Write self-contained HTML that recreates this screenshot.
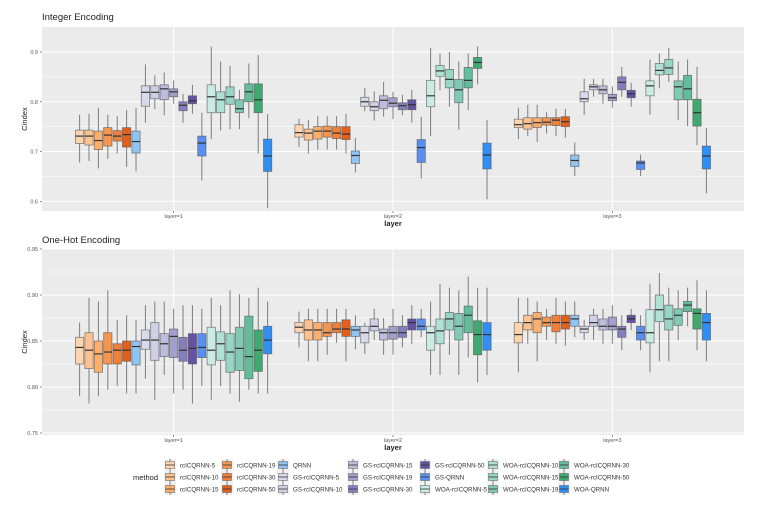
<!DOCTYPE html>
<html><head><meta charset="utf-8">
<style>
body{margin:0;background:#fff;font-family:"Liberation Sans",sans-serif;}
svg{display:block}
text{font-family:"Liberation Sans",sans-serif}
</style></head>
<body>
<svg id="chart" width="768" height="506" viewBox="0 0 768 506"></svg>
<script>
const categories = ["layer=1","layer=2","layer=3"];
const seriesNames = ["rcICQRNN-5","rcICQRNN-10","rcICQRNN-15","rcICQRNN-19","rcICQRNN-30","rcICQRNN-50","QRNN",
 "GS-rcICQRNN-5","GS-rcICQRNN-10","GS-rcICQRNN-15","GS-rcICQRNN-19","GS-rcICQRNN-30","GS-rcICQRNN-50","GS-QRNN",
 "WOA-rcICQRNN-5","WOA-rcICQRNN-10","WOA-rcICQRNN-15","WOA-rcICQRNN-19","WOA-rcICQRNN-30","WOA-rcICQRNN-50","WOA-QRNN"];
const seriesColors = ["#fdd4ae","#fdc28f","#fdae6b","#f7954f","#f07f3a","#e35f1a","#8fc5f2",
 "#d9d9eb","#cfcfe6","#bcbddc","#a39fcc","#8480bd","#6552a5","#5a8ff2",
 "#c9ebe4","#b0e1d5","#97d6c6","#7ecab2","#62bd9b","#3fa96f","#2f8ff5"];
const intTicks = [0.6,0.7,0.8,0.9];
const intTickLabels = ["0.6","0.7","0.8","0.9"];
const ohTicks = [0.75,0.80,0.85,0.90,0.95];
const ohTickLabels = ["0.75","0.80","0.85","0.90","0.95"];
// [lower whisker, q1, median, q3, upper whisker]
const intLayer1 = [[.678,.716,.731,.743,.774],[.681,.713,.731,.743,.776],[.666,.704,.722,.741,.788],[.685,.711,.733,.748,.774],[.696,.721,.731,.742,.771],[.669,.709,.734,.748,.783],[.660,.697,.720,.741,.788],
 [.758,.791,.819,.832,.875],[.785,.806,.819,.832,.853],[.773,.804,.826,.834,.859],[.796,.810,.820,.826,.843],[.758,.782,.793,.800,.816],[.776,.796,.802,.812,.834],[.642,.691,.717,.731,.778],
 [.725,.778,.810,.834,.911],[.742,.778,.804,.820,.881],[.745,.795,.810,.830,.872],[.745,.778,.786,.804,.824],[.767,.800,.820,.836,.877],[.696,.778,.804,.836,.894],[.586,.660,.691,.725,.775]];
const intLayer2 = [[.709,.729,.738,.754,.766],[.696,.723,.737,.745,.763],[.704,.725,.741,.750,.771],[.704,.729,.741,.751,.771],[.704,.726,.737,.750,.771],[.696,.724,.735,.750,.776],[.658,.676,.692,.701,.727],
 [.781,.791,.800,.809,.828],[.762,.782,.790,.800,.821],[.770,.786,.803,.812,.840],[.765,.790,.797,.808,.820],[.773,.784,.792,.798,.814],[.758,.784,.794,.804,.824],[.646,.678,.708,.724,.770],
 [.731,.790,.812,.843,.908],[.823,.851,.862,.873,.897],[.790,.828,.845,.865,.900],[.744,.798,.824,.845,.881],[.783,.828,.843,.869,.897],[.835,.867,.879,.889,.911],[.604,.665,.693,.717,.763]];
const intLayer3 = [[.725,.748,.754,.765,.788],[.731,.745,.756,.768,.794],[.719,.748,.758,.768,.794],[.736,.753,.759,.768,.779],[.731,.752,.763,.768,.786],[.728,.750,.760,.770,.786],[.651,.670,.682,.693,.718],
 [.774,.800,.806,.820,.846],[.810,.824,.830,.834,.846],[.796,.816,.824,.832,.846],[.788,.802,.808,.815,.831],[.810,.824,.839,.850,.870],[.790,.808,.816,.823,.838],[.651,.664,.677,.681,.694],
 [.774,.812,.832,.842,.885],[.827,.854,.863,.877,.897],[.840,.855,.868,.885,.908],[.763,.804,.830,.842,.881],[.751,.804,.826,.853,.885],[.713,.751,.778,.805,.870],[.616,.665,.691,.711,.747]];
const ohLayer1 = [[.790,.825,.843,.854,.870],[.782,.820,.840,.859,.897],[.790,.816,.836,.850,.893],[.797,.825,.838,.859,.905],[.801,.825,.840,.847,.873],[.793,.828,.840,.850,.878],[.793,.824,.844,.850,.873],
 [.809,.841,.851,.862,.889],[.786,.829,.851,.870,.893],[.813,.833,.847,.858,.893],[.793,.832,.855,.863,.885],[.797,.828,.840,.854,.889],[.782,.825,.842,.858,.889],[.801,.832,.843,.858,.885],
 [.786,.824,.840,.865,.897],[.801,.829,.847,.860,.889],[.793,.816,.838,.858,.905],[.784,.818,.842,.865,.901],[.797,.809,.833,.877,.897],[.793,.817,.840,.862,.908],[.793,.836,.851,.866,.893]];
const ohLayer2 = [[.843,.859,.865,.870,.882],[.828,.851,.862,.873,.885],[.828,.851,.862,.870,.885],[.835,.855,.859,.870,.885],[.848,.859,.863,.870,.885],[.828,.855,.863,.873,.885],[.841,.855,.862,.866,.878],
 [.836,.848,.859,.866,.870],[.851,.861,.866,.874,.885],[.835,.851,.859,.863,.875],[.835,.852,.859,.866,.885],[.843,.854,.859,.866,.878],[.847,.862,.870,.874,.889],[.854,.862,.866,.874,.885],
 [.813,.840,.859,.866,.893],[.813,.847,.861,.874,.912],[.835,.862,.874,.881,.908],[.813,.851,.866,.880,.905],[.832,.859,.878,.888,.920],[.805,.835,.857,.872,.908],[.813,.840,.857,.870,.908]];
const ohLayer3 = [[.816,.848,.857,.870,.897],[.847,.862,.870,.878,.897],[.828,.859,.874,.881,.893],[.851,.866,.870,.876,.885],[.847,.860,.870,.878,.897],[.845,.863,.870,.878,.893],[.854,.866,.874,.878,.893],
 [.851,.859,.863,.866,.873],[.851,.866,.870,.878,.885],[.847,.862,.866,.874,.885],[.847,.862,.866,.876,.889],[.840,.854,.863,.866,.878],[.862,.870,.874,.878,.885],[.840,.851,.859,.866,.878],
 [.816,.848,.859,.884,.912],[.828,.871,.884,.900,.924],[.828,.862,.874,.889,.908],[.851,.867,.878,.885,.905],[.866,.882,.889,.893,.908],[.840,.863,.880,.885,.916],[.828,.851,.870,.880,.905]];

const NS = "http://www.w3.org/2000/svg";
const svg = document.getElementById("chart");
function mk(tag, attrs, parent){const e=document.createElementNS(NS,tag);for(const k in attrs)e.setAttribute(k,attrs[k]);(parent||svg).appendChild(e);return e;}

const PX0=42, PX1=744;
const xStep=(PX1-PX0)/3.2;
function xCat(i){return PX0+(0.6+i)*xStep;}
const dodge=0.9*xStep/21;
const boxW=dodge*0.88;

function panel(name,title,top,bottom,vmin,vmax,ticks,tickLabels,minors,layers,titleY){
  const yS=v=>bottom-(v-vmin)/(vmax-vmin)*(bottom-top);
  const g=mk("g",{});
  
  
  const t=mk("text",{x:PX0,y:titleY,"font-size":"9.5",fill:"#222"},g);
  t.textContent=title;
  
  
  const bg=mk("rect",{x:PX0,y:top,width:PX1-PX0,height:bottom-top,fill:"#ebebeb"},g);
  
  
  const vr=(bottom-top);
  minors.forEach(v=>{const y=yS(v);if(y>top&&y<bottom)mk("line",{x1:PX0,x2:PX1,y1:y,y2:y,stroke:"#fff","stroke-width":"0.5"},g);});
  ticks.forEach((v,i)=>{const y=yS(v);
    mk("line",{x1:PX0,x2:PX1,y1:y,y2:y,stroke:"#fff","stroke-width":"1"},g);
    mk("line",{x1:PX0-2,x2:PX0,y1:y,y2:y,stroke:"#444","stroke-width":"0.6"},g);
    const tl=mk("text",{x:PX0-4,y:y+2,"font-size":"5.5",fill:"#555","text-anchor":"end"},g);
    tl.textContent=tickLabels[i];
    
    
  });
  categories.forEach((c,i)=>{const x=xCat(i);
    mk("line",{x1:x,x2:x,y1:top,y2:bottom,stroke:"#fff","stroke-width":"1"},g);
    mk("line",{x1:x,x2:x,y1:bottom,y2:bottom+2,stroke:"#444","stroke-width":"0.6"},g);
    const tl=mk("text",{x:x,y:bottom+7,"font-size":"5.5",fill:"#555","text-anchor":"middle"},g);
    tl.textContent=c;
    
    
  });
  const xt=mk("text",{x:(PX0+PX1)/2,y:bottom+15,"font-size":"7.5","font-weight":"bold",fill:"#222","text-anchor":"middle"},g);
  xt.textContent="layer";
  
  
  const cy=(top+bottom)/2;
  const yt=mk("text",{x:27,y:cy,"font-size":"7.5",fill:"#222","text-anchor":"middle",transform:`rotate(-90 27 ${cy})`},g);
  yt.textContent="Cindex";
  
  
  layers.forEach((layer,li)=>{
    layer.forEach((d,si)=>{
      const xc=xCat(li)+(si-10)*dodge;
      const bx=mk("g",{},g);
      
      
      mk("line",{x1:xc,x2:xc,y1:yS(d[4]),y2:yS(d[0]),stroke:"#333","stroke-opacity":"0.6","stroke-width":"1"},bx);
      mk("rect",{x:xc-boxW/2,y:yS(d[3]),width:boxW,height:Math.max(0.5,yS(d[1])-yS(d[3])),fill:seriesColors[si],stroke:"#555","stroke-opacity":"0.7","stroke-width":"0.8"},bx);
      mk("line",{x1:xc-boxW/2,x2:xc+boxW/2,y1:yS(d[2]),y2:yS(d[2]),stroke:"#333","stroke-width":"1.2"},bx);
    });
  });
}
panel("integer","Integer Encoding",27,211,0.6+(-10/497.7)*0+(-0.0195),0.6+184/497.7-0.0195,intTicks,intTickLabels,[0.65,0.75,0.85],[intLayer1,intLayer2,intLayer3],20);
panel("onehot","One-Hot Encoding",249,435,0.75-2/920,0.95,ohTicks,ohTickLabels,[0.775,0.825,0.875,0.925],[ohLayer1,ohLayer2,ohLayer3],243);

// legend
const lg=mk("g",{});


const lt=mk("text",{x:133,y:480,"font-size":"7.5",fill:"#222"},lg);
lt.textContent="method";


const colX=[170,227,283,353,425,493,564];
const rowY=[465,477,489];
seriesNames.forEach((n,i)=>{
  const c=Math.floor(i/3), r=i%3;
  const x=colX[c], y=rowY[r];
  const e=mk("g",{},lg);
  
  
  mk("rect",{x:x-6,y:y-6,width:12,height:12,fill:"#f2f2f2"},e);
  mk("line",{x1:x,x2:x,y1:y-6,y2:y+6,stroke:"#555","stroke-width":"0.7"},e);
  mk("rect",{x:x-4.5,y:y-3.5,width:9,height:7,fill:seriesColors[i],stroke:"#555","stroke-opacity":"0.7","stroke-width":"0.7"},e);
  mk("line",{x1:x-4.5,x2:x+4.5,y1:y,y2:y,stroke:"#333","stroke-width":"0.8"},e);
  const tx=mk("text",{x:x+10,y:y+2.3,"font-size":"6.2",fill:"#333"},e);
  tx.textContent=n;
});
</script>
</body></html>
